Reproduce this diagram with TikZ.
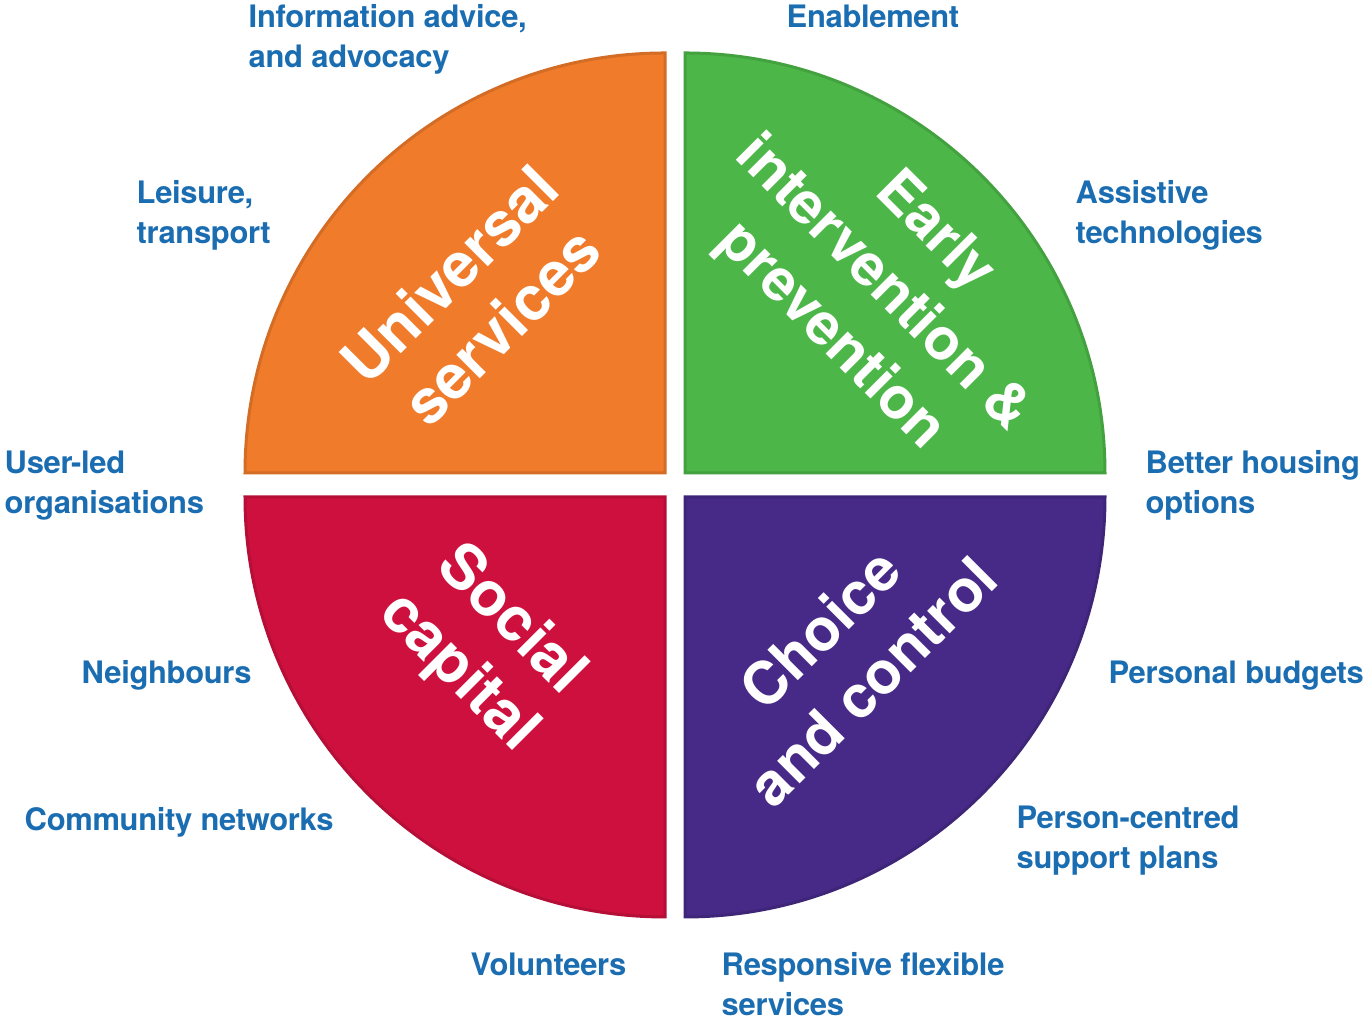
\documentclass[tikz,border=0pt]{standalone}
\usepackage{fontspec}
\setmainfont{TeX Gyre Heros}
\newfontfamily\itemfont[LetterSpace=-1]{TeX Gyre Heros}
\usepackage{tikz}
\usetikzlibrary{positioning, calc}
\definecolor{serviceorange}{RGB}{240, 123, 42}
\definecolor{preventgreen}{RGB}{76, 183, 72}
\definecolor{capitalred}{RGB}{206, 16, 62}
\definecolor{controlpurple}{RGB}{71, 42, 135}
\definecolor{labelblue}{RGB}{27, 109, 178}
\tikzstyle{quadrant} = [line width=0.3mm]
\tikzstyle{heading} = [text=white, font=\bfseries\fontsize{17.5}{21}\selectfont, align=center, inner sep=0pt]
\tikzstyle{item} = [text=labelblue, font=\itemfont\bfseries\fontsize{8.8}{11.4}\selectfont, align=left, anchor=base west, inner sep=0pt]

\begin{document}
\begin{tikzpicture}[x=0.1mm, y=0.1mm]

\fill[white] (0,0) rectangle (1363,1019);
\useasboundingbox (0,0) rectangle (1363,1019);

% Quadrants
\filldraw [quadrant, fill=serviceorange, draw=serviceorange!88!black] (665,546) -- (245,546) arc (180:90:420) -- cycle;
\filldraw [quadrant, fill=preventgreen, draw=preventgreen!88!black] (685,546) -- (685,966) arc (90:0:420) -- cycle;
\filldraw [quadrant, fill=capitalred, draw=capitalred!88!black] (665,522) -- (665,102) arc (270:180:420) -- cycle;
\filldraw [quadrant, fill=controlpurple, draw=controlpurple!88!black] (685,522) -- (1105,522) arc (0:-90:420) -- cycle;

% Quadrant titles
\node (universal) [heading, rotate=45] at (475,719) {Universal\\services};
\node (early) [heading, rotate=-45, font=\bfseries\fontsize{16.5}{21}\selectfont] at (882,734) {Early\\intervention \&\\prevention};
\node (social) [heading, rotate=-45] at (484,372) {Social\\capital};
\node (choice) [heading, rotate=45, font=\bfseries\fontsize{16.8}{21}\selectfont] at (846,364) {Choice\\and control};

% Left side (base = last line)
\node (info) [item] at (248,951) {Information advice,\\and advocacy};
\node (leisure) [item] at (136,775) {Leisure,\\transport};
\node (userled) [item] at (4,505) {User-led\\organisations};
\node (neighbours) [item] at (81,335) {Neighbours};
\node (community) [item] at (24,188) {Community networks};
\node (volunteers) [item] at (470,43) {Volunteers};

% Right side
\node (enable) [item] at (786,991) {Enablement};
\node (assist) [item] at (1075,775) {Assistive\\technologies};
\node (housing) [item] at (1145,505) {Better housing\\options};
\node (budgets) [item] at (1108,335) {Personal budgets};
\node (plans) [item] at (1016,150) {Person-centred\\support plans};
\node (responsive) [item] at (721,3) {Responsive flexible\\services};

\end{tikzpicture}
\end{document}
